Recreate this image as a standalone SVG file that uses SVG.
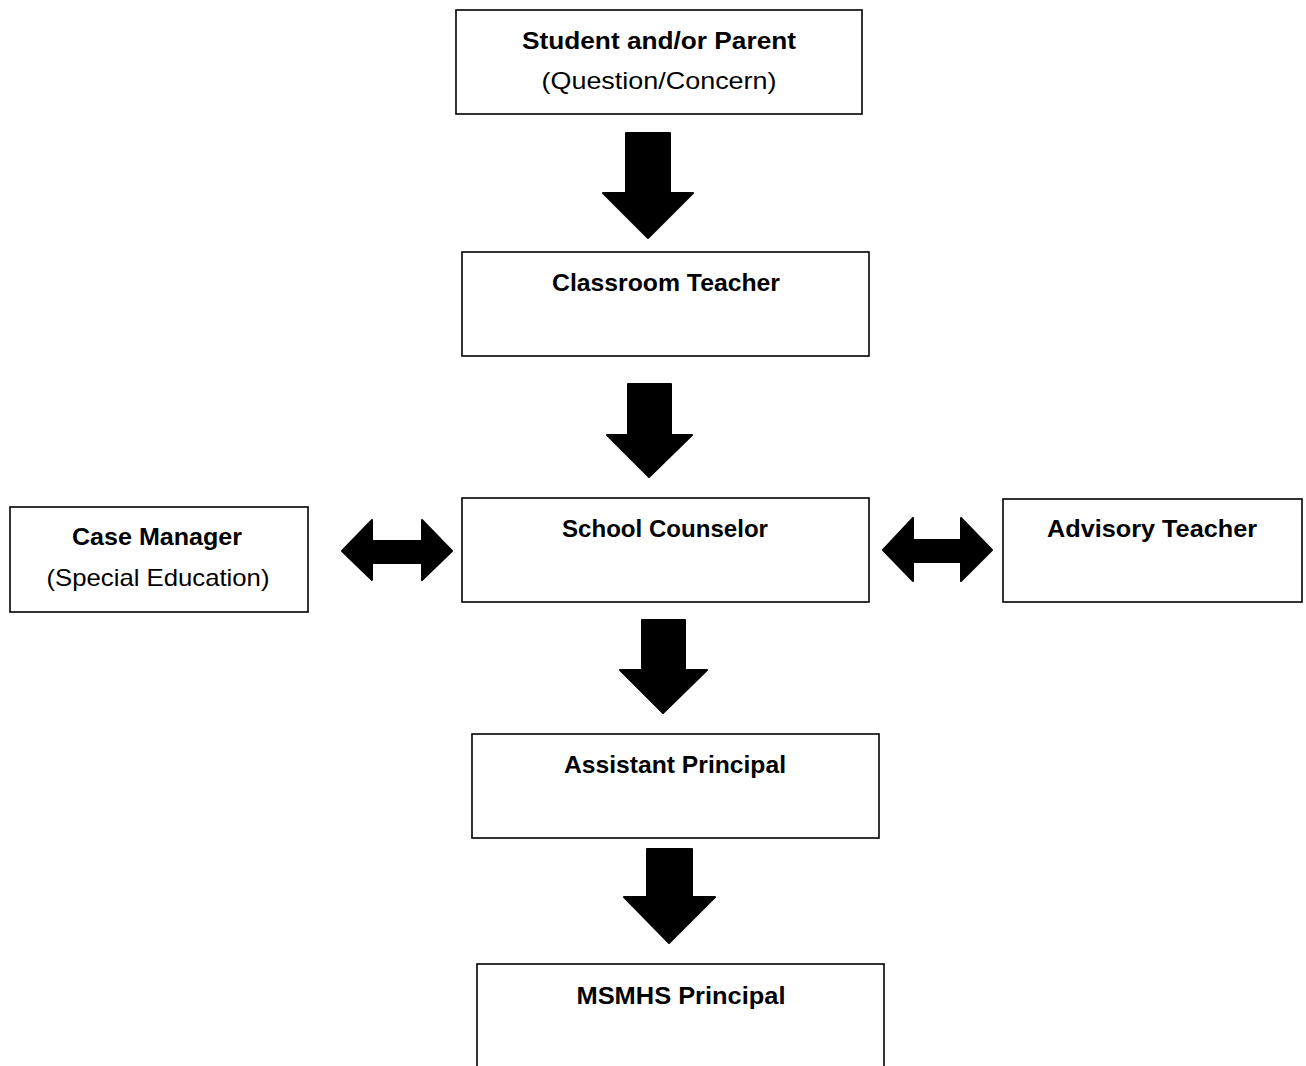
<svg xmlns="http://www.w3.org/2000/svg" width="1306" height="1066" viewBox="0 0 1306 1066">
<style>
.box{fill:#fff;stroke:#000;stroke-width:1.6}
.arr{fill:#000;stroke:#000;stroke-width:2;stroke-linejoin:round}
.b{font-family:"Liberation Sans",Arial,sans-serif;font-weight:bold;font-size:24px;fill:#000}
.r{font-family:"Liberation Sans",Arial,sans-serif;font-size:24px;fill:#000}
</style>
<rect width="1306" height="1066" fill="#fff"/>
<g id="connectors">
<polygon class="arr" points="626,133 670,133 670,193 693,193 648,238 603,193 626,193"/>
<polygon class="arr" points="628,384 671,384 671,435 692,435 649,477 607,435 628,435"/>
<polygon class="arr" points="642,620 685,620 685,670 707,670 663,713 620,670 642,670"/>
<polygon class="arr" points="647,849 692,849 692,897 715,897 669,943 624,897 647,897"/>
<polygon class="arr" points="342,551 372,520 372,541 422,541 422,520 452,551 422,580 422,563 372,563 372,580"/>
<polygon class="arr" points="883,550 913,518 913,540 961,540 961,518 992,550 961,581 961,562 913,562 913,581"/>
</g>
<g id="student">
<rect class="box" x="456" y="10" width="406" height="104"/>
<text class="b" x="659" y="49" text-anchor="middle" textLength="274" lengthAdjust="spacingAndGlyphs">Student and/or Parent</text>
<text class="r" x="659" y="89" text-anchor="middle" textLength="235" lengthAdjust="spacingAndGlyphs">(Question/Concern)</text>
</g>
<g id="classroom">
<rect class="box" x="462" y="252" width="407" height="104"/>
<text class="b" x="666" y="291" text-anchor="middle" textLength="228" lengthAdjust="spacingAndGlyphs">Classroom Teacher</text>
</g>
<g id="counselor">
<rect class="box" x="462" y="498" width="407" height="104"/>
<text class="b" x="665" y="537" text-anchor="middle" textLength="206" lengthAdjust="spacingAndGlyphs">School Counselor</text>
</g>
<g id="casemanager">
<rect class="box" x="10" y="507" width="298" height="105"/>
<text class="b" x="157" y="545" text-anchor="middle" textLength="170" lengthAdjust="spacingAndGlyphs">Case Manager</text>
<text class="r" x="158" y="586" text-anchor="middle" textLength="223" lengthAdjust="spacingAndGlyphs">(Special Education)</text>
</g>
<g id="advisory">
<rect class="box" x="1003" y="499" width="299" height="103"/>
<text class="b" x="1152" y="537" text-anchor="middle" textLength="210" lengthAdjust="spacingAndGlyphs">Advisory Teacher</text>
</g>
<g id="assistant">
<rect class="box" x="472" y="734" width="407" height="104"/>
<text class="b" x="675" y="773" text-anchor="middle" textLength="222" lengthAdjust="spacingAndGlyphs">Assistant Principal</text>
</g>
<g id="principal">
<rect class="box" x="477" y="964" width="407" height="110"/>
<text class="b" x="681" y="1004" text-anchor="middle" textLength="209" lengthAdjust="spacingAndGlyphs">MSMHS Principal</text>
</g>
</svg>
